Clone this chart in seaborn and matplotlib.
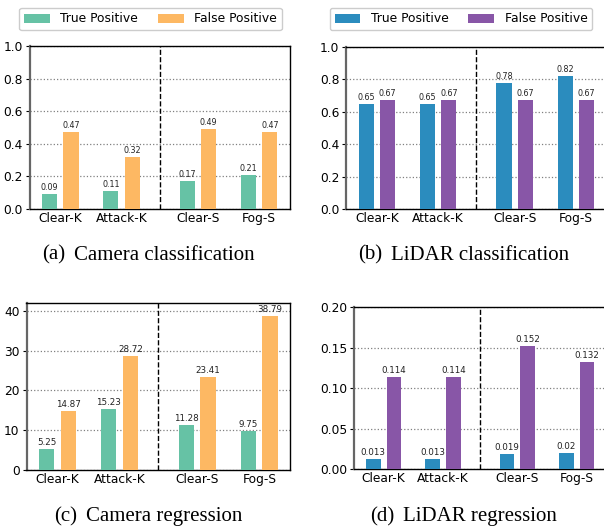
import matplotlib
matplotlib.use("Agg")
import matplotlib.pyplot as plt
import seaborn as sns
import pandas as pd

# ---- data ----
scenes = ["Clear-K", "Attack-K", "Clear-S", "Fog-S"]
series = ["True Positive", "False Positive"]

cam_cls_tp = [0.09, 0.11, 0.17, 0.21]
cam_cls_fp = [0.47, 0.32, 0.49, 0.47]
lidar_cls_tp = [0.65, 0.65, 0.78, 0.82]
lidar_cls_fp = [0.67, 0.67, 0.67, 0.67]
cam_reg_tp = [5.25, 15.23, 11.28, 9.75]
cam_reg_fp = [14.87, 28.72, 23.41, 38.79]
lidar_reg_tp = [0.013, 0.013, 0.019, 0.02]
lidar_reg_fp = [0.114, 0.114, 0.152, 0.132]

cap_tags = ["(a)", "(b)", "(c)", "(d)"]
cap_texts = ["Camera classification", "LiDAR classification",
             "Camera regression", "LiDAR regression"]

# ---- layout / style ----
xpos = [0.0, 1.0, 2.25, 3.25]
divider = 1.625
cam_colors = ["#66c2a5", "#fdb863"]
lidar_colors = ["#2b8cbe", "#8856a7"]

W, H = 604, 528
fig = plt.figure(figsize=(W / 100, H / 100), dpi=100)


def px_axes(left, top, width, height):
    return fig.add_axes([left / W, 1 - (top + height) / H, width / W, height / H])


panels = [
    dict(tp=cam_cls_tp, fp=cam_cls_fp, colors=cam_colors, rect=(29.7, 46, 260, 163),
         ylim=(0, 1.0), yticks=[0, 0.2, 0.4, 0.6, 0.8, 1.0], yfmt="{:.1f}", lab=5.8,
         cap=(42, 255), leg=(150.5, 19)),
    dict(tp=lidar_cls_tp, fp=lidar_cls_fp, colors=lidar_colors, rect=(346.4, 47, 260, 162),
         ylim=(0, 1.0), yticks=[0, 0.2, 0.4, 0.6, 0.8, 1.0], yfmt="{:.1f}", lab=5.8,
         cap=(358, 255), leg=(461, 19)),
    dict(tp=cam_reg_tp, fp=cam_reg_fp, colors=cam_colors, rect=(26.5, 303, 263.8, 167),
         ylim=(0, 42), yticks=[0, 10, 20, 30, 40], yfmt="{:.0f}", lab=6.3,
         cap=(54, 517), leg=None),
    dict(tp=lidar_reg_tp, fp=lidar_reg_fp, colors=lidar_colors, rect=(354.0, 307, 252.4, 162.3),
         ylim=(0, 0.2), yticks=[0, 0.05, 0.10, 0.15, 0.20], yfmt="{:.2f}", lab=6.3,
         cap=(370, 517), leg=None),
]

for i, p in enumerate(panels):
    ax = px_axes(*p["rect"])
    df = pd.DataFrame({
        "pos": xpos * 2,
        "metric": [series[0]] * 4 + [series[1]] * 4,
        "value": list(p["tp"]) + list(p["fp"]),
    })
    sns.barplot(data=df, x="pos", y="value", hue="metric", hue_order=series,
                palette=p["colors"], native_scale=True, width=0.7, gap=0.29,
                saturation=1, errorbar=None, ax=ax, zorder=3)
    for cont in ax.containers:
        ax.bar_label(cont, fmt="{:g}", padding=1.5, fontsize=p["lab"], color="#222222")
    ax.set_xlim(-0.5, 3.75)
    ax.set_ylim(*p["ylim"])
    ax.set_xticks(xpos, labels=scenes, fontsize=8.8)
    ax.set_yticks(p["yticks"], labels=[p["yfmt"].format(v) for v in p["yticks"]], fontsize=8.8)
    ax.tick_params(axis="x", length=0, pad=2)
    ax.tick_params(axis="y", length=3, pad=2)
    ax.set_xlabel("")
    ax.set_ylabel("")
    ax.yaxis.grid(True, linestyle=":", color="gray", linewidth=0.9)
    ax.set_axisbelow(True)
    ax.axvline(divider, color="black", linestyle="--", linewidth=1.0, zorder=4)
    for s in ax.spines.values():
        s.set_linewidth(1.0)
        s.set_color("black")
    ax.spines["left"].set_color("#666666")
    ax.spines["left"].set_linewidth(1.6)
    handles, labels = ax.get_legend_handles_labels()
    if ax.get_legend() is not None:
        ax.get_legend().remove()
    if p["leg"] is not None:
        fig.legend(handles, labels, loc="center", ncol=2, fontsize=8.9,
                   bbox_to_anchor=(p["leg"][0] / W, 1 - p["leg"][1] / H),
                   columnspacing=1.6, handlelength=2.1, handleheight=0.75,
                   handletextpad=0.83, borderpad=0.4, framealpha=1,
                   edgecolor="#cccccc")
    # caption: tag + text with a wider gap as in LaTeX subcaptions
    cx, cy = p["cap"][0] / W, 1 - p["cap"][1] / H
    tag = fig.text(cx, cy, cap_tags[i], ha="left", va="center",
                   family="Liberation Serif", fontsize=15)
    fig.canvas.draw()
    bb = tag.get_window_extent()
    fig.text((bb.x1 + 9) / W, cy, cap_texts[i], ha="left", va="center",
             family="Liberation Serif", fontsize=15)

fig.savefig("out.png", dpi=100)
